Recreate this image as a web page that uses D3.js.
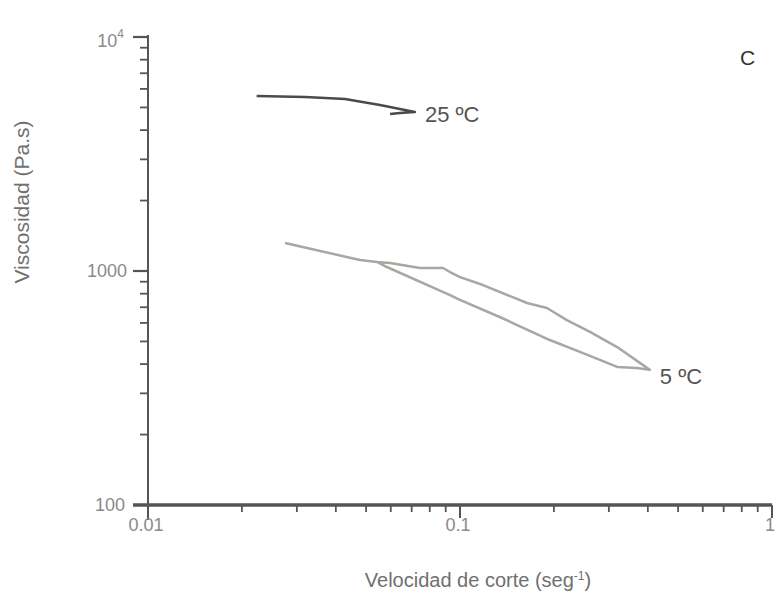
<!DOCTYPE html>
<html><head><meta charset="utf-8">
<script src="https://cdn.jsdelivr.net/npm/d3@7"></script>
<style>body{margin:0;background:#fff}svg{display:block}</style>
</head><body>
<svg id="c" width="776" height="607"></svg>
<script>
// Data (shear rate s^-1, viscosity Pa.s)
const rate25 = [0.0223, 0.0319, 0.0428, 0.0554, 0.0717, 0.0642, 0.0597];
const visc25 = [5597, 5541, 5432, 5120, 4780, 4734, 4688];
const rate5 = [0.0275, 0.0478, 0.0542, 0.0583, 0.0929, 0.1, 0.134, 0.194, 0.248, 0.319, 0.369, 0.406,
               0.319, 0.261, 0.220, 0.190, 0.164, 0.1185, 0.1, 0.0929, 0.0882, 0.0744, 0.0597, 0.0542];
const visc5 = [1317, 1114, 1093, 1040, 789, 752, 636, 507, 446, 389, 385, 378,
               473, 549, 617, 695, 730, 871, 942, 990, 1030, 1030, 1082, 1093];
const seriesLabels = ["25 ºC", "5 ºC"];
const xTickLabels = ["0.01", "0.1", "1"];
const yTickValues = [100, 1000, 10000];

const svg = d3.select("#c");
const x = d3.scaleLog().domain([0.01, 1]).range([148, 772]);
const y = d3.scaleLog().domain([100, 10000]).range([505, 37]);
const font = "Liberation Sans, Arial, Helvetica, sans-serif";
const axisCol = "#555";

// minor ticks
const xMinor = [];
for (let d = 0.01; d < 1 - 1e-9; d *= 10) for (let k = 2; k <= 9; k++) xMinor.push(d * k);
const yMinor = [];
for (let d = 100; d < 10000 - 1e-6; d *= 10) for (let k = 2; k <= 9; k++) yMinor.push(d * k);

const g = svg.append("g");
// y axis line
g.append("line").attr("x1", x(0.01)).attr("x2", x(0.01)).attr("y1", y(10000) - 2).attr("y2", y(100) + 15)
  .attr("stroke", axisCol).attr("stroke-width", 2);
// x axis line
g.append("line").attr("x1", x(0.01) - 15).attr("x2", x(1)).attr("y1", y(100)).attr("y2", y(100))
  .attr("stroke", axisCol).attr("stroke-width", 3.5);

// y ticks (left side)
g.selectAll(".ymin").data(yMinor).join("line")
  .attr("x1", x(0.01) - 8).attr("x2", x(0.01)).attr("y1", d => y(d)).attr("y2", d => y(d))
  .attr("stroke", axisCol).attr("stroke-width", 1.8);
g.selectAll(".ymaj").data(yTickValues.slice(1)).join("line")
  .attr("x1", x(0.01) - 15).attr("x2", x(0.01)).attr("y1", d => y(d)).attr("y2", d => y(d))
  .attr("stroke", axisCol).attr("stroke-width", 2.2);
// x ticks (down)
g.selectAll(".xmin").data(xMinor).join("line")
  .attr("x1", d => x(d)).attr("x2", d => x(d)).attr("y1", y(100)).attr("y2", y(100) + 7)
  .attr("stroke", axisCol).attr("stroke-width", 1.8);
g.selectAll(".xmaj").data([0.1, 1]).join("line")
  .attr("x1", d => x(d)).attr("x2", d => x(d)).attr("y1", y(100)).attr("y2", y(100) + 13)
  .attr("stroke", axisCol).attr("stroke-width", 2);

// tick labels
const tickCol = "#8a8a8a";
const tfs = 18;
g.selectAll(".xl").data([0.01, 0.1, 1]).join("text")
  .attr("x", d => x(d) - 2).attr("y", 531).attr("text-anchor", "middle")
  .attr("font-family", font).attr("font-size", tfs).attr("fill", tickCol)
  .text((d, i) => xTickLabels[i]);
g.append("text").attr("x", 125).attr("y", y(100) + 6).attr("text-anchor", "end")
  .attr("font-family", font).attr("font-size", tfs).attr("fill", tickCol).text(String(yTickValues[0]));
g.append("text").attr("x", 127).attr("y", y(1000) + 6).attr("text-anchor", "end")
  .attr("font-family", font).attr("font-size", tfs).attr("fill", tickCol).text(String(yTickValues[1]));
const t4 = g.append("text").attr("x", 124).attr("y", y(10000) + 10).attr("text-anchor", "end")
  .attr("font-family", font).attr("font-size", tfs).attr("fill", tickCol);
t4.append("tspan").text("10");
t4.append("tspan").attr("dy", -9).attr("font-size", 12).text("4");

// axis titles
const titleCol = "#707070";
const xt = g.append("text").attr("x", 478).attr("y", 587).attr("text-anchor", "middle")
  .attr("font-family", font).attr("font-size", 20).attr("fill", titleCol);
xt.append("tspan").text("Velocidad de corte (seg");
xt.append("tspan").attr("dy", -7).attr("font-size", 12).text("-1");
xt.append("tspan").attr("dy", 7).text(")");
g.append("text").attr("transform", "translate(29,202) rotate(-90)").attr("text-anchor", "middle")
  .attr("font-family", font).attr("font-size", 21).attr("fill", titleCol).text("Viscosidad (Pa.s)");

// panel letter
g.append("text").attr("x", 740).attr("y", 65).attr("font-family", font).attr("font-size", 21)
  .attr("fill", "#333").text("C");

// lines
const line = d3.line().x(d => x(d[0])).y(d => y(d[1]));
const d25 = rate25.map((r, i) => [r, visc25[i]]);
const d5 = rate5.map((r, i) => [r, visc5[i]]);
g.append("path").attr("d", line(d25)).attr("fill", "none").attr("stroke", "#4a4a4a").attr("stroke-width", 2.5)
  .attr("stroke-linejoin", "round");
g.append("path").attr("d", line(d5)).attr("fill", "none").attr("stroke", "#aaa6a2").attr("stroke-width", 2.5)
  .attr("stroke-linejoin", "round");

// series labels
g.append("text").attr("x", x(0.0717) + 10).attr("y", y(4780) + 10).attr("font-family", font).attr("font-size", 22)
  .attr("fill", "#555").text(seriesLabels[0]);
g.append("text").attr("x", x(0.406) + 10).attr("y", y(378) + 14).attr("font-family", font).attr("font-size", 22)
  .attr("fill", "#555").text(seriesLabels[1]);
</script>
</body></html>
